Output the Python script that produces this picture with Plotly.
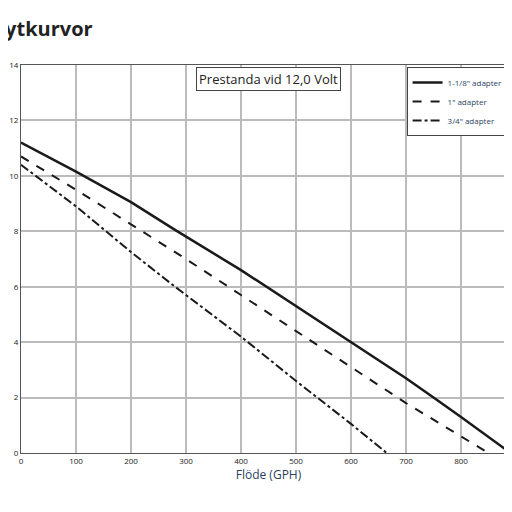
import plotly.graph_objects as go

# flow (GPH) vs lift height
x_118 = [0, 100, 200, 280, 400, 500, 600, 700, 750, 800, 890]
y_118 = [11.2, 10.15, 9.05, 8.05, 6.6, 5.3, 4.0, 2.7, 2.0, 1.3, 0]
x_1 = [0, 100, 200, 300, 400, 500, 600, 700, 800, 850]
y_1 = [10.7, 9.5, 8.25, 7.0, 5.7, 4.4, 3.1, 1.8, 0.6, 0]
x_34 = [0, 100, 200, 280, 400, 500, 600, 665]
y_34 = [10.4, 8.9, 7.25, 6.0, 4.2, 2.6, 1.05, 0]

names = ['1-1/8" adapter', '1" adapter', '3/4" adapter']
dashes = ['solid', 'dash', 'dashdot']

fig = go.Figure()
for xs, ys, nm, ds in zip([x_118, x_1, x_34], [y_118, y_1, y_34], names, dashes):
    fig.add_trace(go.Scatter(x=xs, y=ys, name=nm, mode='lines',
                             line=dict(color='#1a1a1a', width=2.5 if ds == 'solid' else 2, dash=ds)))

axis = dict(showgrid=True, gridcolor='#bbbbbb', gridwidth=1.5, zeroline=False,
            showline=True, linecolor='#555', mirror=True, ticks='', automargin=False,
            tickfont=dict(size=8, color='#222', family='Open Sans'))
fig.update_xaxes(range=[0, 900], dtick=100, title=dict(text='Flöde (GPH)', font=dict(size=12, family='Open Sans'), standoff=6), **axis)
fig.update_yaxes(range=[0, 14], dtick=2, **axis)

fig.add_annotation(text='<b>Flytkurvor</b>', xref='paper', yref='paper', x=0.15, y=1.095,
                   xanchor='right', yanchor='middle', showarrow=False,
                   font=dict(size=20, family='Open Sans', color='#222'))
fig.add_annotation(text='Prestanda vid 12,0 Volt', xref='paper', yref='paper', x=0.5, y=0.995,
                   xanchor='center', yanchor='top', showarrow=False, bgcolor='white',
                   bordercolor='#444', borderwidth=1, borderpad=2,
                   font=dict(size=13, family='Open Sans', color='#222'))

fig.update_layout(width=512, height=512, plot_bgcolor='white', paper_bgcolor='white',
                  margin=dict(l=13, r=4, t=57, b=67, autoexpand=False),
                  legend=dict(x=0.985, y=0.995, xanchor='right', yanchor='top', bgcolor='white',
                              bordercolor='#444', borderwidth=1, font=dict(size=8, family='Open Sans'),
                              tracegroupgap=0))
fig.write_html("out.html")
